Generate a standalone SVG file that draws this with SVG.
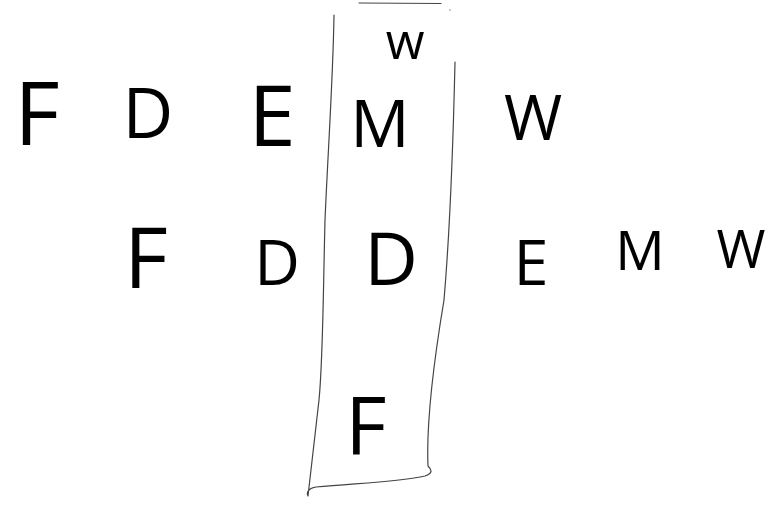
<svg xmlns="http://www.w3.org/2000/svg" width="772" height="506" viewBox="0 0 772 506">
<style>
  .l { font-family: "Open Sans", "Liberation Sans", "DejaVu Sans", sans-serif; font-weight: 400; fill: #000; text-anchor: middle; }
  .box { fill: none; stroke: #444; stroke-width: 1.2; stroke-linecap: round; stroke-linejoin: round; }
</style>
<rect width="772" height="506" fill="#fff"/>
<g id="connectors">
  <path class="box" d="M334,15 C333,80 328,150 325,220 C323,300 323,360 319,400 L308,496 C306,492 309,488 316,487 C360,483 400,482 425,476 C433,473 432,470 428,466 C426,420 434,360 444,300 C450,230 453,150 455,62"/>
  <path class="box" d="M359,3 L441,3.5"/>
  <circle cx="450" cy="10" r="0.8" fill="#888"/>
</g>
<g id="r1-F"><text class="l" x="37" y="145" font-size="88">F</text></g>
<g id="r1-D"><text class="l" x="148" y="138" font-size="70">D</text></g>
<g id="r1-E"><text class="l" x="272" y="146" font-size="85">E</text></g>
<g id="r1-M"><text class="l" x="380" y="147" font-size="66">M</text></g>
<g id="r1-W"><text class="l" x="533" y="140" font-size="63">W</text></g>
<g id="top-w"><text class="l" x="405" y="59" font-size="50">w</text></g>
<g id="r2-F"><text class="l" x="146" y="288" font-size="85">F</text></g>
<g id="r2-D1"><text class="l" x="277" y="285" font-size="63">D</text></g>
<g id="r2-D2"><text class="l" x="391" y="285" font-size="74">D</text></g>
<g id="r2-E"><text class="l" x="531" y="285" font-size="63">E</text></g>
<g id="r2-M"><text class="l" x="640" y="270" font-size="55">M</text></g>
<g id="r2-W"><text class="l" x="741" y="268" font-size="53">W</text></g>
<g id="r3-F"><text class="l" x="366" y="455" font-size="80">F</text></g>
</svg>
